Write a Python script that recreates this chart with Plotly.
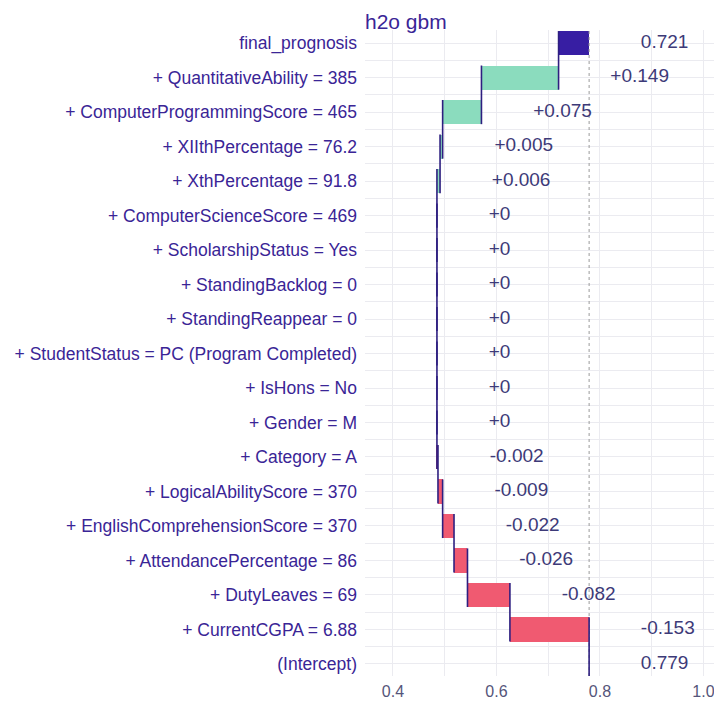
import plotly.graph_objects as go

# Break-down of the h2o gbm prediction, listed top to bottom as drawn
model_label = "h2o gbm"
variables = [
    "+ QuantitativeAbility = 385",
    "+ ComputerProgrammingScore = 465",
    "+ XIIthPercentage = 76.2",
    "+ XthPercentage = 91.8",
    "+ ComputerScienceScore = 469",
    "+ ScholarshipStatus = Yes",
    "+ StandingBacklog = 0",
    "+ StandingReappear = 0",
    "+ StudentStatus = PC (Program Completed)",
    "+ IsHons = No",
    "+ Gender = M",
    "+ Category = A",
    "+ LogicalAbilityScore = 370",
    "+ EnglishComprehensionScore = 370",
    "+ AttendancePercentage = 86",
    "+ DutyLeaves = 69",
    "+ CurrentCGPA = 6.88",
]
contributions = [0.149, 0.075, 0.005, 0.006, 0, 0, 0, 0, 0, 0, 0,
                 -0.002, -0.009, -0.022, -0.026, -0.082, -0.153]
intercept = 0.779
prediction = 0.721

POS_COL = "#8bdcbe"
NEG_COL = "#f05a71"
FINAL_COL = "#371ea3"
TEXT_COL = "#3a2596"
HALF = 0.35          # half bar thickness (rows)
LABEL_NUDGE = 0.1    # gap between bar end and its value label

# rows counted from the bottom: intercept = 1, contributions upward, final on top
contrib_bottom_up = contributions[::-1]
vars_bottom_up = variables[::-1]
n = len(contrib_bottom_up)

rows, starts, ends, labels, fills, texts = [], [], [], [], [], []
rows.append(1); starts.append(intercept); ends.append(intercept)
labels.append("(Intercept)"); fills.append(FINAL_COL); texts.append(f"{intercept:.3f}")
cum = intercept
for i, (v, c) in enumerate(zip(vars_bottom_up, contrib_bottom_up)):
    rows.append(i + 2)
    starts.append(cum)
    cum = cum + c
    ends.append(cum)
    labels.append(v)
    fills.append(POS_COL if c > 0 else NEG_COL)
    texts.append(f"+{c:g}" if c >= 0 else f"{c:g}")
rows.append(n + 2); starts.append(intercept); ends.append(prediction)
labels.append("final_prognosis"); fills.append(FINAL_COL); texts.append(f"{prediction:.3f}")

fig = go.Figure()

# dotted reference line at the intercept
fig.add_trace(go.Scatter(
    x=[intercept, intercept], y=[0.65, n + 2 + HALF + 0.03],
    mode="lines", line=dict(color="#9a9a9a", width=1, dash="dot"),
    hoverinfo="skip", showlegend=False))

# bars
fig.add_trace(go.Bar(
    y=rows,
    x=[abs(e - s) for s, e in zip(starts, ends)],
    base=[min(s, e) for s, e in zip(starts, ends)],
    orientation="h", width=2 * HALF,
    marker=dict(color=fills, line=dict(width=0)),
    hoverinfo="skip", showlegend=False))

# connectors between consecutive bars
cx, cy = [], []
for k in range(len(rows) - 1):
    cx += [ends[k], ends[k], None]
    cy += [rows[k] - HALF, rows[k + 1] + HALF, None]
fig.add_trace(go.Scatter(
    x=cx, y=cy, mode="lines", line=dict(color="#2e1f80", width=1.6),
    hoverinfo="skip", showlegend=False))

# value labels
fig.add_trace(go.Scatter(
    x=[max(s, e) + LABEL_NUDGE for s, e in zip(starts, ends)],
    y=rows, mode="text", text=texts, textposition="middle right",
    textfont=dict(family="Liberation Sans", size=19, color="#3d3a78"),
    hoverinfo="skip", showlegend=False))

fig.add_annotation(
    text=model_label, xref="paper", yref="paper", x=0, y=1,
    xanchor="left", yanchor="bottom", showarrow=False, xshift=-2, yshift=-5,
    font=dict(family="Liberation Sans", size=21, color=TEXT_COL))

GRID = "#ebebf0"
fig.update_layout(
    width=714, height=705,
    margin=dict(l=365, r=0, t=30, b=29),
    plot_bgcolor="white", paper_bgcolor="white",
    bargap=0,
    xaxis=dict(
        range=[0.346, 1.0203], tickmode="linear", tick0=0.4, dtick=0.2,
        tickformat=".1f", showgrid=True, gridcolor=GRID, gridwidth=1,
        minor=dict(tick0=0.3, dtick=0.1, showgrid=True, gridcolor=GRID, gridwidth=1),
        zeroline=False, showline=False, ticks="",
        tickfont=dict(family="Liberation Sans", size=16, color="#55557a"),
        ticklabelstandoff=4, ticklabeloverflow="allow",
    ),
    yaxis=dict(
        range=[0.65, n + 2 + 0.38], tickmode="array", tickvals=rows, ticktext=labels,
        showgrid=True, gridcolor=GRID, gridwidth=1,
        minor=dict(tickvals=[r + 0.5 for r in rows[:-1]], showgrid=True,
                   gridcolor=GRID, gridwidth=1),
        zeroline=False, showline=False, ticks="",
        tickfont=dict(family="Liberation Sans", size=17.5, color=TEXT_COL),
        ticklabelstandoff=7,
    ),
)

fig.write_html("out.html")
